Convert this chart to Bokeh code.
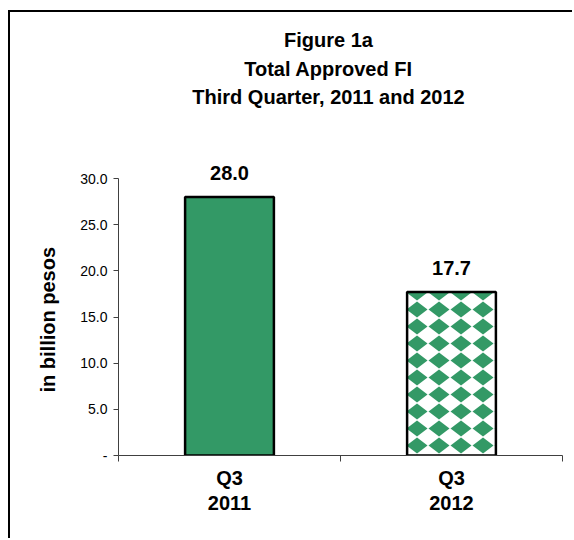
from bokeh.plotting import figure
from bokeh.models import (ColumnDataSource, FactorRange, Range1d, LinearAxis, CategoricalAxis,
                          FixedTicker, LabelSet, Label, CanvasTexture, Title)
from bokeh.core.properties import value
from bokeh.embed import file_html
from bokeh.resources import INLINE

# ---- data ----
categories = ["Q3\n2011", "Q3\n2012"]
values = [28.0, 17.7]
value_labels = ["28.0", "17.7"]
y_ticks = [0, 5, 10, 15, 20, 25, 30]
y_tick_labels = ["-", "5.0", "10.0", "15.0", "20.0", "25.0", "30.0"]
title_lines = ["Figure 1a", "Total Approved FI", "Third Quarter, 2011 and 2012"]
y_title = "in billion pesos"
bar_fills = ["#339966", "#ffffff"]
bar_hatches = ["blank", "dchk"]

FONT = "Liberation Sans"
GREEN = "#339966"

source = ColumnDataSource(dict(x=categories, top=values, label=value_labels,
                               fill=bar_fills, hatch=bar_hatches))

# figure sits inside the chart border (drawn with CSS): content starts 10px left, 12px top
p = figure(width=564, height=528, x_range=FactorRange(*categories), y_range=Range1d(0, 47.98),
           x_axis_location=None, output_backend="svg", toolbar_location=None,
           min_border_left=108, min_border_right=12, min_border_top=0, min_border_bottom=85)
p.styles = {"margin-left": "8px", "margin-top": "10px",
            "border-left": "2px solid black", "border-top": "2px solid black"}
p.outline_line_color = None
p.grid.visible = False
p.background_fill_color = "white"
p.border_fill_color = "white"

diamond = CanvasTexture(code="""
ctx.canvas.width = 22;
ctx.canvas.height = 17;
ctx.fillStyle = '#339966';
ctx.beginPath();
ctx.moveTo(11, 0.5);
ctx.lineTo(21.5, 8.5);
ctx.lineTo(11, 16.5);
ctx.lineTo(0.5, 8.5);
ctx.closePath();
ctx.fill();
""")

p.vbar(x="x", top="top", width=0.4, source=source, fill_color="fill",
       line_color="black", line_width=2.5,
       hatch_pattern="hatch", hatch_color=GREEN, hatch_extra={"dchk": diamond})

labels = LabelSet(x="x", y="top", text="label", source=source, text_align="center",
                  text_baseline="alphabetic", y_offset=17, text_font=value(FONT),
                  text_font_size="20px", text_font_style="bold", text_color="black")
p.add_layout(labels)

# y axis
ya = p.yaxis[0]
ya.ticker = FixedTicker(ticks=y_ticks)
ya.bounds = (y_ticks[0], y_ticks[-1])
ya.major_label_overrides = dict(zip(y_ticks, y_tick_labels))
ya.minor_tick_line_color = None
ya.major_tick_out = 5
ya.major_tick_in = 0
ya.axis_line_color = "#404040"
ya.major_tick_line_color = "#404040"
ya.major_label_text_font = FONT
ya.major_label_text_font_size = "14px"
ya.major_label_text_color = "black"
ya.major_label_standoff = 6

# y axis title (vertical, placed beside the 0-30 part of the axis)
p.add_layout(Title(text=y_title, align="left", offset=63, vertical_align="middle",
                   standoff=35, text_font=FONT, text_font_size="20px",
                   text_font_style="bold", text_color="black"), "left")

# x axis: ticks at category boundaries + category labels
tick_axis = LinearAxis(ticker=FixedTicker(ticks=list(range(len(categories) + 1))),
                       major_label_text_font_size="0px", major_label_text_color=None,
                       major_label_standoff=0, major_tick_out=6, major_tick_in=0,
                       minor_tick_line_color=None, axis_line_color="#404040",
                       major_tick_line_color="#404040")
p.add_layout(tick_axis, "below")
cat_axis = CategoricalAxis(axis_line_color=None, major_tick_line_color=None,
                           minor_tick_line_color=None,
                           major_label_text_font=FONT, major_label_text_font_size="20px",
                           major_label_text_font_style="bold", major_label_text_color="black",
                           major_label_text_line_height=1.15,
                           major_label_standoff=-1)
p.add_layout(cat_axis, "below")

# title lines
for txt, yy in zip(title_lines, [25, 54, 82]):
    p.add_layout(Label(x=316, y=yy, x_units="canvas", y_units="canvas", text=txt,
                       text_align="center", text_baseline="alphabetic", text_font=FONT,
                       text_font_size="20px", text_font_style="bold", text_color="black"))

open("out.html", "w").write(file_html(p, INLINE))
